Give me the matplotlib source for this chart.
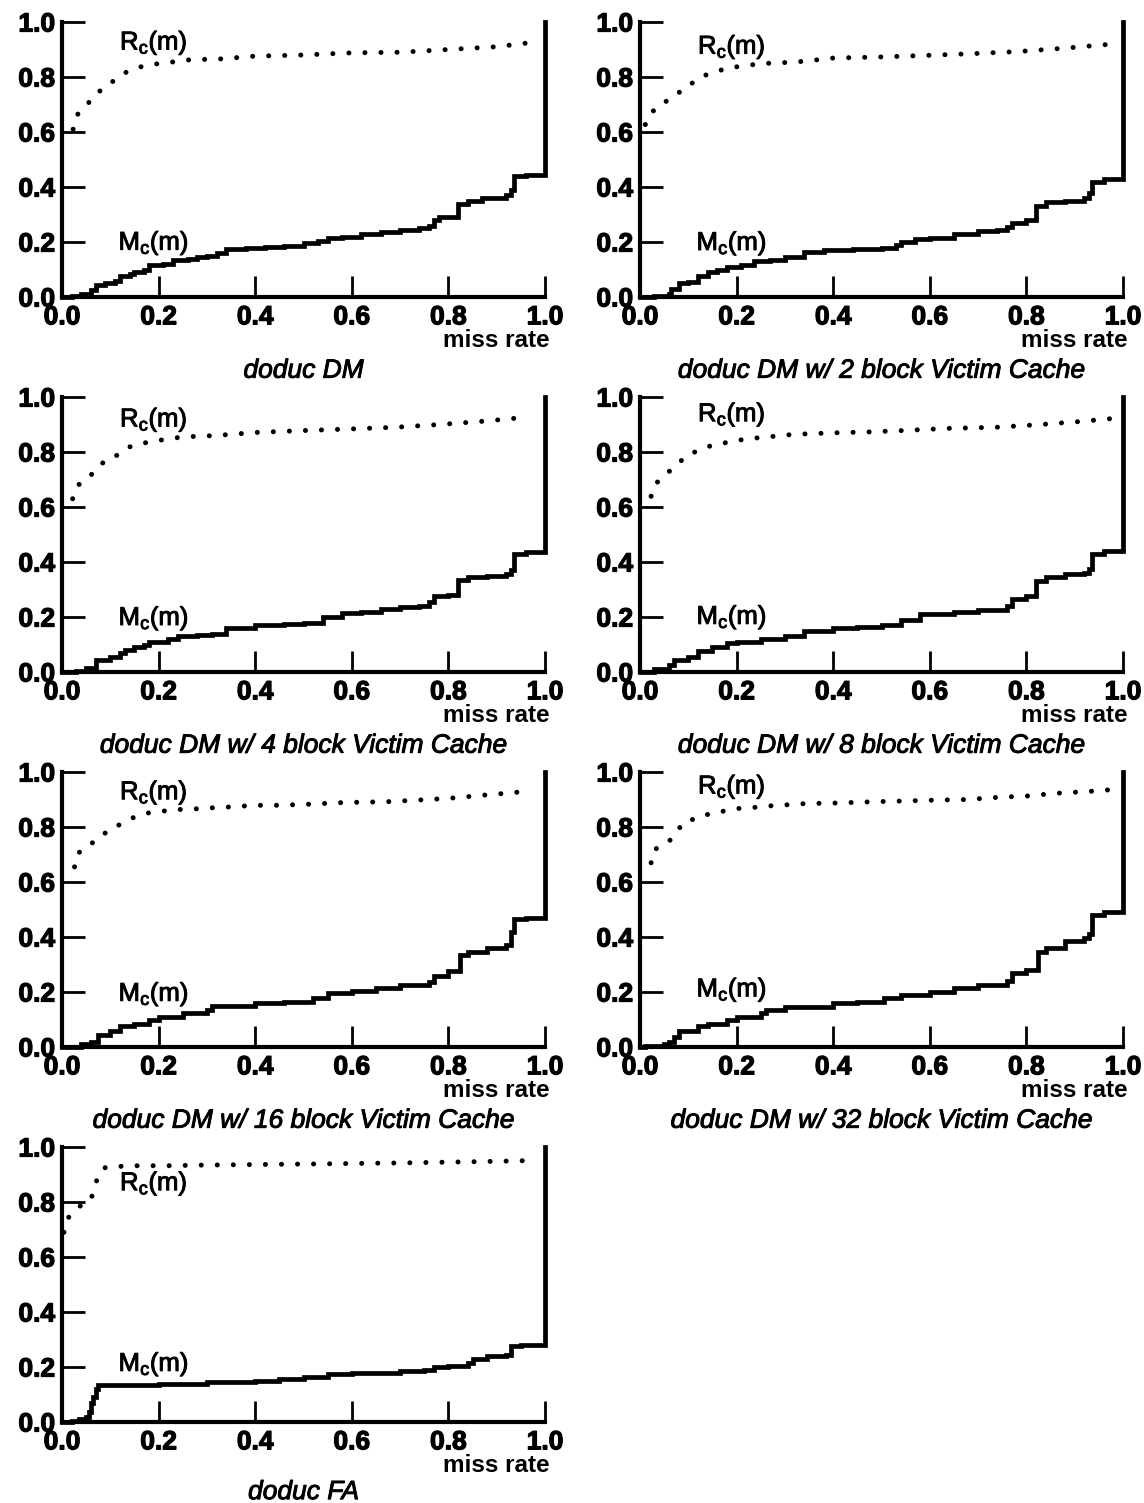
import matplotlib
matplotlib.use('Agg')
import matplotlib.pyplot as plt
import matplotlib.patheffects as pe

plt.rcParams['font.family'] = ['Liberation Sans', 'DejaVu Sans']
plt.rcParams['mathtext.fontset'] = 'custom'
plt.rcParams['mathtext.rm'] = 'Liberation Sans'
plt.rcParams['mathtext.it'] = 'Liberation Sans:italic'

titles = ['doduc DM',
          'doduc DM w/ 2 block Victim Cache',
          'doduc DM w/ 4 block Victim Cache',
          'doduc DM w/ 8 block Victim Cache',
          'doduc DM w/ 16 block Victim Cache',
          'doduc DM w/ 32 block Victim Cache',
          'doduc FA']

ticks = [0.0, 0.2, 0.4, 0.6, 0.8, 1.0]
tick_labels = ['0.0', '0.2', '0.4', '0.6', '0.8', '1.0']

# M_c(m): cumulative miss curve, step points (miss rate, fraction)
mx_dm = [0.00, 0.02, 0.04, 0.06, 0.07, 0.09, 0.11, 0.12, 0.14, 0.15, 0.17, 0.18, 0.21, 0.23, 0.26, 0.28, 0.30, 0.32, 0.34, 0.38,
         0.42, 0.46, 0.50, 0.53, 0.55, 0.58, 0.62, 0.66, 0.70, 0.74, 0.76, 0.77, 0.78, 0.82, 0.84, 0.87, 0.92, 0.93, 0.935, 0.96, 1.00, 1.00]
my_dm = [0.00, 0.005, 0.01, 0.025, 0.045, 0.05, 0.06, 0.075, 0.085, 0.09, 0.10, 0.115, 0.12, 0.135, 0.14, 0.145, 0.15, 0.16, 0.175, 0.18,
         0.182, 0.185, 0.195, 0.205, 0.215, 0.22, 0.228, 0.235, 0.245, 0.25, 0.26, 0.28, 0.29, 0.34, 0.35, 0.36, 0.37, 0.39, 0.44, 0.443, 0.445, 1.0]

mx_v2 = [0.00, 0.03, 0.06, 0.065, 0.08, 0.10, 0.12, 0.14, 0.16, 0.18, 0.21, 0.235, 0.27, 0.30, 0.34, 0.38, 0.44, 0.50, 0.53, 0.54,
         0.57, 0.60, 0.65, 0.70, 0.74, 0.76, 0.77, 0.80, 0.82, 0.84, 0.88, 0.92, 0.93, 0.935, 0.96, 1.00, 1.00]
my_v2 = [0.00, 0.005, 0.01, 0.03, 0.05, 0.055, 0.075, 0.09, 0.10, 0.11, 0.115, 0.13, 0.135, 0.145, 0.165, 0.17, 0.175, 0.18, 0.19, 0.20,
         0.21, 0.215, 0.23, 0.24, 0.245, 0.255, 0.27, 0.28, 0.33, 0.345, 0.35, 0.36, 0.38, 0.42, 0.43, 0.435, 1.0]

mx_v4 = [0.00, 0.03, 0.05, 0.07, 0.10, 0.12, 0.13, 0.15, 0.17, 0.18, 0.22, 0.24, 0.28, 0.31, 0.34, 0.40, 0.46, 0.50, 0.54, 0.58,
         0.62, 0.66, 0.70, 0.74, 0.76, 0.77, 0.80, 0.82, 0.84, 0.88, 0.92, 0.93, 0.935, 0.96, 1.00, 1.00]
my_v4 = [0.00, 0.005, 0.015, 0.045, 0.055, 0.07, 0.08, 0.09, 0.10, 0.11, 0.12, 0.13, 0.135, 0.14, 0.16, 0.17, 0.175, 0.18, 0.20, 0.215,
         0.22, 0.228, 0.235, 0.24, 0.255, 0.275, 0.28, 0.335, 0.345, 0.35, 0.355, 0.37, 0.43, 0.435, 0.44, 1.0]

mx_v8 = [0.00, 0.03, 0.06, 0.07, 0.10, 0.12, 0.15, 0.18, 0.20, 0.25, 0.30, 0.34, 0.40, 0.45, 0.50, 0.54, 0.58, 0.65, 0.70, 0.76,
         0.77, 0.80, 0.82, 0.84, 0.88, 0.92, 0.93, 0.935, 0.96, 1.00, 1.00]
my_v8 = [0.00, 0.01, 0.025, 0.045, 0.055, 0.075, 0.09, 0.105, 0.11, 0.12, 0.13, 0.15, 0.16, 0.165, 0.17, 0.19, 0.21, 0.22, 0.225, 0.24,
         0.265, 0.275, 0.33, 0.345, 0.355, 0.36, 0.375, 0.43, 0.44, 0.445, 1.0]

mx_v16 = [0.00, 0.04, 0.06, 0.075, 0.10, 0.12, 0.15, 0.18, 0.20, 0.25, 0.30, 0.31, 0.40, 0.46, 0.52, 0.55, 0.60, 0.65, 0.70, 0.76,
          0.77, 0.80, 0.825, 0.84, 0.88, 0.92, 0.93, 0.935, 0.96, 1.00, 1.00]
my_v16 = [0.00, 0.01, 0.02, 0.045, 0.06, 0.075, 0.085, 0.10, 0.11, 0.125, 0.135, 0.15, 0.16, 0.165, 0.18, 0.195, 0.205, 0.215, 0.225, 0.235,
          0.26, 0.275, 0.335, 0.345, 0.36, 0.37, 0.42, 0.465, 0.47, 0.475, 1.0]

mx_v32 = [0.00, 0.01, 0.05, 0.06, 0.07, 0.08, 0.12, 0.14, 0.18, 0.20, 0.25, 0.26, 0.30, 0.40, 0.45, 0.505, 0.54, 0.60, 0.65, 0.70,
          0.76, 0.77, 0.80, 0.825, 0.84, 0.88, 0.92, 0.93, 0.935, 0.96, 1.00, 1.00]
my_v32 = [0.00, 0.005, 0.01, 0.02, 0.035, 0.06, 0.075, 0.085, 0.10, 0.11, 0.125, 0.135, 0.145, 0.16, 0.165, 0.18, 0.19, 0.20, 0.215, 0.225,
          0.24, 0.27, 0.28, 0.345, 0.36, 0.385, 0.395, 0.41, 0.48, 0.49, 0.495, 1.0]

mx_fa = [0.00, 0.02, 0.035, 0.05, 0.055, 0.06, 0.065, 0.07, 0.075, 0.20, 0.30, 0.40, 0.45, 0.50, 0.55, 0.60, 0.70, 0.75, 0.77, 0.80,
         0.84, 0.85, 0.88, 0.92, 0.93, 0.95, 1.00, 1.00]
my_fa = [0.00, 0.005, 0.01, 0.02, 0.035, 0.07, 0.09, 0.12, 0.135, 0.14, 0.145, 0.15, 0.155, 0.165, 0.175, 0.18, 0.185, 0.19, 0.20, 0.205,
         0.215, 0.23, 0.24, 0.245, 0.275, 0.28, 0.28, 1.0]

# R_c(m): dotted curve
rx_dm = [0.023, 0.03, 0.05, 0.068, 0.094, 0.11, 0.13, 0.155, 0.18, 0.21, 0.26, 0.33, 0.40, 0.50, 0.60, 0.70, 0.80, 0.90, 0.97]
ry_dm = [0.61, 0.66, 0.695, 0.735, 0.77, 0.79, 0.815, 0.833, 0.845, 0.85, 0.862, 0.866, 0.876, 0.88, 0.888, 0.89, 0.90, 0.91, 0.925]

rx_v2 = [0.011, 0.023, 0.042, 0.061, 0.08, 0.099, 0.118, 0.137, 0.16, 0.18, 0.21, 0.243, 0.274, 0.308, 0.338, 0.40, 0.50, 0.60, 0.69, 0.787, 0.88, 0.966]
ry_v2 = [0.627, 0.669, 0.70, 0.718, 0.742, 0.772, 0.784, 0.808, 0.82, 0.833, 0.839, 0.847, 0.851, 0.853, 0.857, 0.869, 0.873, 0.879, 0.885, 0.893, 0.905, 0.918]

rx_v4 = [0.022, 0.03, 0.045, 0.064, 0.079, 0.097, 0.12, 0.139, 0.161, 0.187, 0.217, 0.247, 0.277, 0.307, 0.341, 0.40, 0.50, 0.60, 0.69, 0.783, 0.873, 0.966]
ry_v4 = [0.63, 0.673, 0.698, 0.722, 0.753, 0.777, 0.792, 0.818, 0.83, 0.838, 0.847, 0.854, 0.857, 0.859, 0.863, 0.871, 0.878, 0.884, 0.89, 0.90, 0.912, 0.927]

rx_v8 = [0.023, 0.03, 0.046, 0.061, 0.08, 0.099, 0.118, 0.144, 0.175, 0.198, 0.228, 0.255, 0.285, 0.316, 0.346, 0.407, 0.475, 0.544, 0.64, 0.738, 0.83, 0.92, 0.973]
ry_v8 = [0.639, 0.681, 0.706, 0.73, 0.76, 0.79, 0.803, 0.821, 0.833, 0.842, 0.848, 0.854, 0.858, 0.864, 0.866, 0.87, 0.873, 0.878, 0.886, 0.89, 0.90, 0.912, 0.921]

rx_v16 = [0.026, 0.03, 0.045, 0.068, 0.098, 0.12, 0.143, 0.173, 0.199, 0.226, 0.259, 0.289, 0.32, 0.35, 0.383, 0.414, 0.447, 0.515, 0.583, 0.673, 0.737, 0.80, 0.861, 0.929, 0.974]
ry_v16 = [0.655, 0.698, 0.723, 0.748, 0.79, 0.809, 0.831, 0.85, 0.855, 0.862, 0.865, 0.867, 0.871, 0.873, 0.877, 0.879, 0.879, 0.883, 0.889, 0.892, 0.898, 0.904, 0.914, 0.924, 0.932]

rx_v32 = [0.023, 0.028, 0.045, 0.064, 0.08, 0.095, 0.121, 0.144, 0.178, 0.20, 0.231, 0.261, 0.292, 0.322, 0.352, 0.386, 0.42, 0.485, 0.553, 0.617, 0.678, 0.742, 0.803, 0.864, 0.928, 0.985]
ry_v32 = [0.67, 0.716, 0.732, 0.754, 0.793, 0.824, 0.83, 0.849, 0.859, 0.867, 0.87, 0.876, 0.879, 0.883, 0.886, 0.886, 0.888, 0.892, 0.895, 0.898, 0.90, 0.908, 0.913, 0.923, 0.929, 0.937]

rx_fa = [0.004, 0.011, 0.026, 0.043, 0.06, 0.068, 0.075, 0.09, 0.124, 0.158, 0.188, 0.222, 0.282, 0.50, 0.70, 0.90, 0.977]
ry_fa = [0.69, 0.74, 0.764, 0.795, 0.81, 0.856, 0.897, 0.926, 0.93, 0.932, 0.932, 0.932, 0.934, 0.938, 0.942, 0.948, 0.951]

m_curves = [(mx_dm, my_dm), (mx_v2, my_v2), (mx_v4, my_v4), (mx_v8, my_v8),
            (mx_v16, my_v16), (mx_v32, my_v32), (mx_fa, my_fa)]
r_curves = [(rx_dm, ry_dm), (rx_v2, ry_v2), (rx_v4, ry_v4), (rx_v8, ry_v8),
            (rx_v16, ry_v16), (rx_v32, ry_v32), (rx_fa, ry_fa)]
# label heights for R_c(m) and M_c(m)
r_label_y = [0.925, 0.91, 0.918, 0.937, 0.926, 0.947, 0.868]
m_label_y = [0.197, 0.196, 0.196, 0.20, 0.193, 0.209, 0.211]
title_y = [-0.268, -0.268, -0.268, -0.268, -0.268, -0.268, -0.255]

# slightly heavier strokes for the text
medium = [pe.withStroke(linewidth=0.7, foreground='black')]
heavy = [pe.withStroke(linewidth=0.9, foreground='black')]

fig = plt.figure(figsize=(11.44, 15.03), dpi=100)
W, H = 1144, 1503
col_left = [62, 640]
row_top = [22, 397, 772, 1147]
ax_w, ax_h = 483, 275

for i in range(7):
    r, c = divmod(i, 2)
    left = col_left[c] / W
    bottom = 1 - (row_top[r] + ax_h) / H
    ax = fig.add_axes([left, bottom, ax_w / W, ax_h / H])

    mx, my = m_curves[i]
    ax.step(mx, my, where='post', color='black', lw=3.4, clip_on=False,
            zorder=3, solid_joinstyle='miter')
    rx, ry = r_curves[i]
    ax.plot(rx, ry, color='black', lw=3.6, linestyle=(0, (0.01, 3.2)),
            dash_capstyle='round', clip_on=False, zorder=3)

    ax.set_xlim(0, 1)
    ax.set_ylim(0, 1)
    for s in ['top', 'right']:
        ax.spines[s].set_visible(False)
    for s in ['left', 'bottom']:
        ax.spines[s].set_linewidth(3.0)
    ax.set_xticks(ticks)
    ax.set_xticklabels(tick_labels)
    ax.set_yticks(ticks)
    ax.set_yticklabels(tick_labels)
    ax.tick_params(axis='x', direction='in', length=15, width=2.0, pad=6,
                   labelsize=19)
    ax.tick_params(axis='y', direction='in', length=16.5, width=2.0, pad=5,
                   labelsize=19)
    for lab in ax.get_xticklabels() + ax.get_yticklabels():
        lab.set_fontweight('bold')
        lab.set_path_effects(heavy)

    ax.text(0.19, r_label_y[i], r'R$_\mathrm{c}$(m)', transform=ax.transAxes,
            ha='center', va='center', fontsize=18.5, path_effects=medium)
    ax.text(0.19, m_label_y[i], r'M$_\mathrm{c}$(m)', transform=ax.transAxes,
            ha='center', va='center', fontsize=18.5, path_effects=medium)
    ax.text(1.01, -0.158, 'miss rate', transform=ax.transAxes, ha='right',
            va='center', fontsize=17.5, fontweight='bold')
    ax.text(0.5, title_y[i], titles[i], transform=ax.transAxes, ha='center',
            va='center', fontsize=19, style='italic', path_effects=medium)

plt.savefig('out.png', dpi=100)
